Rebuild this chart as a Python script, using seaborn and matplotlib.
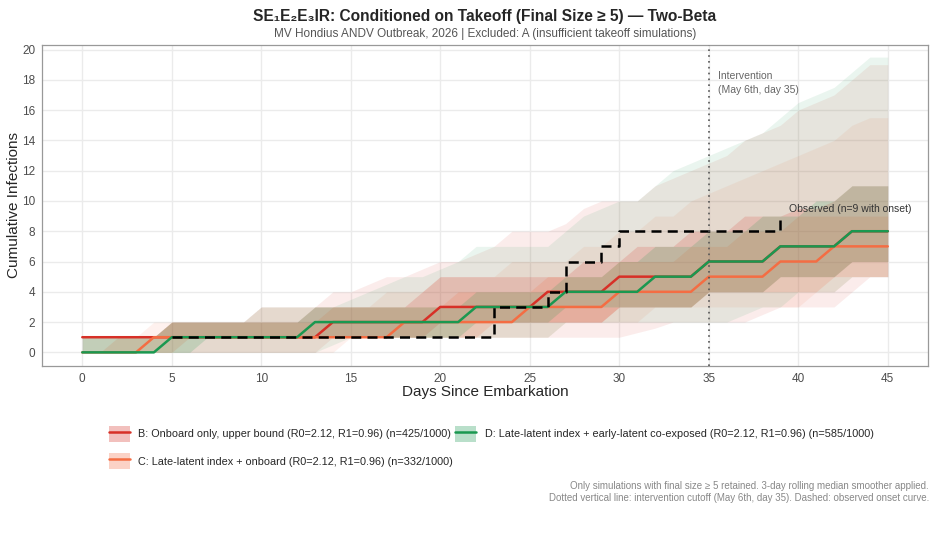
import matplotlib.pyplot as plt
import pandas as pd
import seaborn as sns
from matplotlib.lines import Line2D
from matplotlib.patches import Patch

# --- data (day 0..45) ---
days = list(range(46))

scenario_keys = ['B', 'C', 'D']
scenario_labels = [
    'B: Onboard only, upper bound (R0=2.12, R1=0.96) (n=425/1000)',
    'C: Late-latent index + onboard (R0=2.12, R1=0.96) (n=332/1000)',
    'D: Late-latent index + early-latent co-exposed (R0=2.12, R1=0.96) (n=585/1000)',
]
scenario_colors = ['#d73027', '#f46d43', '#1a9850']

# medians
b_med = [1, 1, 1, 1, 1, 1, 1, 1, 1, 1,
         1, 1, 1, 1, 2, 2, 2, 2, 2, 2,
         3, 3, 3, 3, 3, 3, 4, 4, 4, 4,
         5, 5, 5, 5, 5, 6, 6, 6, 6, 7,
         7, 7, 7, 8, 8, 8]
c_med = [0, 0, 0, 0, 1, 1, 1, 1, 1, 1,
         1, 1, 1, 1, 1, 1, 1, 1, 2, 2,
         2, 2, 2, 2, 2, 3, 3, 3, 3, 3,
         4, 4, 4, 4, 4, 5, 5, 5, 5, 6,
         6, 6, 7, 7, 7, 7]
d_med = [0, 0, 0, 0, 0, 1, 1, 1, 1, 1,
         1, 1, 1, 2, 2, 2, 2, 2, 2, 2,
         2, 2, 3, 3, 3, 3, 3, 4, 4, 4,
         4, 4, 5, 5, 5, 6, 6, 6, 6, 7,
         7, 7, 7, 8, 8, 8]

# outer (90%) bands
b_lo90 = [0, 0, 0, 0, 0, 0, 0, 0, 0, 0,
          0, 0, 0, 0, 1, 1, 1, 1, 1, 1,
          1, 1, 1, 1, 1, 1, 1, 1, 1, 1,
          1, 1.3, 1.6, 2, 2, 2, 2, 2, 2.5, 3,
          3, 3, 3, 4, 5, 5]
b_hi90 = [1, 1, 1, 1, 1, 2, 2, 2, 2, 2,
          3, 3, 3, 3, 4, 4, 4.5, 5, 5, 5.5,
          6, 6, 6.5, 7, 8, 8, 8, 8.5, 9.5, 10,
          10, 10, 11, 11.5, 12, 12.5, 13, 14, 14.5, 15,
          16, 16.5, 17, 18, 19, 19]
c_lo90 = [0, 0, 0, 0, 0, 0, 0, 0, 0, 0,
          0, 0, 0, 0, 0, 1, 1, 1, 1, 1,
          1, 1, 1, 1, 1, 1, 1, 2, 2, 2,
          2, 2, 3, 3, 3, 3, 3, 3, 3, 3,
          3, 4, 4, 5, 5, 5]
c_hi90 = [1, 1, 1, 1, 2, 2, 2, 2, 2, 2,
          3, 3, 3, 3, 3, 3, 3, 4, 4, 4,
          5, 5, 5, 5, 6, 6, 6, 6, 7, 7,
          8, 8, 9, 9, 10, 10.5, 11, 11.5, 12, 12.5,
          13, 13.5, 14, 15, 15.5, 15.5]
d_lo90 = [0, 0, 0, 0, 0, 0, 0, 0, 0, 0,
          0, 0, 0, 0, 0.5, 1, 1, 1, 1, 1,
          1, 1, 1, 1, 1, 1, 1, 2, 2, 2,
          2, 2, 2, 2, 2, 2, 2, 2.5, 3, 3,
          4, 4, 4, 5, 5, 5]
d_hi90 = [1, 1, 1, 1, 1, 2, 2, 2, 2, 2,
          3, 3, 3, 3, 3, 3.5, 4, 4.5, 5, 5,
          5.5, 6, 7, 7, 7, 7, 7, 8, 9, 9.5,
          10, 10, 11, 12, 12.5, 13, 13.5, 14, 14.5, 15.5,
          16.5, 17, 17.5, 18.5, 19.5, 19.5]

# inner (50%) bands
b_lo50 = [1, 1, 1, 1, 1, 1, 1, 1, 1, 1,
          1, 1, 1, 1, 1, 1, 1, 1, 1, 1,
          2, 2, 2, 2, 2, 2, 2, 2, 2, 2,
          3, 3, 3, 3, 3, 4, 4, 4, 4, 5,
          5, 5, 5, 6, 6, 6]
b_hi50 = [1, 1, 1, 1, 1, 2, 2, 2, 2, 2,
          2, 2, 2, 3, 3, 3, 3, 3, 3, 4,
          5, 5, 5, 5, 5, 5, 5, 5, 6, 6,
          6, 7, 7, 7, 8, 8, 8, 9, 9, 9,
          9.5, 9.5, 10, 11, 11, 11]
c_lo50 = [0, 0, 0, 0, 0, 0, 1, 1, 1, 1,
          1, 1, 1, 1, 1, 1, 1, 1, 1, 1,
          1, 1, 1, 2, 2, 2, 2, 2, 2, 2,
          3, 3, 3, 3, 3, 4, 4, 4, 4, 4,
          4, 4, 5, 5, 5, 5]
c_hi50 = [0, 0, 1, 1, 1, 2, 2, 2, 2, 2,
          2, 2, 2, 2, 3, 3, 3, 3, 3, 3,
          3, 4, 4, 4, 4, 4, 5, 5, 5, 5,
          6, 6, 6, 6, 7, 7, 7, 8, 8, 8,
          9, 9, 9, 9, 9, 9]
d_lo50 = [0, 0, 0, 0, 0, 0, 0, 1, 1, 1,
          1, 1, 1, 1, 1, 1, 1, 1, 1, 1,
          1, 1, 2, 2, 2, 2, 2, 3, 3, 3,
          3, 3, 3, 3, 3, 4, 4, 4, 4, 5,
          5, 5, 5, 6, 6, 6]
d_hi50 = [1, 1, 1, 1, 1, 2, 2, 2, 2, 2,
          2, 2, 2, 3, 3, 3, 3, 3, 3, 3,
          3, 3, 4, 4, 4, 4, 4, 5, 5, 5,
          6, 6, 7, 7, 7, 8, 8, 8, 9, 9,
          9, 10, 10, 11, 11, 11]

# observed onset curve
obs_day = [5, 23, 26, 27, 29, 30, 39]
obs_cum = [1, 3, 4, 6, 7, 8, 9]

intervention_day = 35

# --- build long table ---
rows = []
for key, med, lo90, hi90, lo50, hi50 in [
        ('B', b_med, b_lo90, b_hi90, b_lo50, b_hi50),
        ('C', c_med, c_lo90, c_hi90, c_lo50, c_hi50),
        ('D', d_med, d_lo90, d_hi90, d_lo50, d_hi50)]:
    rows.append(pd.DataFrame({'day': days, 'median': med, 'lo90': lo90, 'hi90': hi90,
                              'lo50': lo50, 'hi50': hi50, 'scenario': key}))
df = pd.concat(rows, ignore_index=True)

sns.set_theme(style='whitegrid')
plt.rcParams['font.family'] = ['Liberation Sans', 'DejaVu Sans']

fig = plt.figure(figsize=(9.36, 5.35), dpi=100)
ax = fig.add_axes([0.0449, 0.3159, 0.9466, 0.6000])

palette = dict(zip(scenario_keys, scenario_colors))

# ribbons
for key in scenario_keys:
    sub = df[df['scenario'] == key]
    ax.fill_between(sub['day'], sub['lo90'], sub['hi90'], color=palette[key], alpha=0.09, lw=0)
for key in scenario_keys:
    sub = df[df['scenario'] == key]
    ax.fill_between(sub['day'], sub['lo50'], sub['hi50'], color=palette[key], alpha=0.17, lw=0)

# median lines
sns.lineplot(data=df, x='day', y='median', hue='scenario', hue_order=scenario_keys,
             palette=palette, estimator=None, lw=1.8, legend=False, ax=ax)

# observed
ax.plot(obs_day, obs_cum, drawstyle='steps-post', color='black', lw=1.8,
        dashes=(4, 2.5), zorder=5)
ax.text(39.5, 9.5, 'Observed (n=9 with onset)', fontsize=7.5, color='#333333',
        ha='left', va='center')

# intervention
ax.axvline(intervention_day, color='#555555', lw=1.2, ls=(0, (1, 2.5)), zorder=6)
ax.text(35.5, 18.55, 'Intervention\n(May 6th, day 35)', fontsize=7.5, color='#666666',
        ha='left', va='top', linespacing=1.45)

ax.set_xlim(-2.25, 47.25)
ax.set_ylim(-0.9, 20.3)
ax.set_xticks(range(0, 46, 5))
ax.set_yticks(range(0, 21, 2))
ax.tick_params(axis='both', labelsize=8.5, labelcolor='#4d4d4d', length=3,
               color='#999999', pad=2)
ax.grid(True, color='#ebebeb', lw=1)
for s in ax.spines.values():
    s.set_color('#999999')
    s.set_linewidth(0.9)
ax.set_xlabel('')
ax.set_ylabel('')

fig.text(0.0150, 0.6159, 'Cumulative Infections', rotation=90, fontsize=11,
         ha='center', va='center')
fig.text(0.5182, 0.267, 'Days Since Embarkation', fontsize=11, ha='center', va='center')

fig.text(0.5182, 0.970, 'SE\u2081E\u2082E\u2083IR: Conditioned on Takeoff (Final Size \u2265 5) \u2014 Two-Beta',
         fontsize=11.2, fontweight='bold', ha='center', va='center')
fig.text(0.5182, 0.936, 'MV Hondius ANDV Outbreak, 2026 | Excluded: A (insufficient takeoff simulations)',
         fontsize=8.5, color='#555555', ha='center', va='center')

# legend
handles = []
for key, col in zip(scenario_keys, scenario_colors):
    handles.append((Patch(facecolor=col, alpha=0.3, edgecolor='none'),
                    Line2D([], [], color=col, lw=1.8)))
fig.legend(handles, scenario_labels, loc='upper left', bbox_to_anchor=(0.112, 0.212),
           ncol=2, frameon=False, fontsize=7.8, handlelength=1.9, handleheight=1.9,
           handletextpad=0.8, columnspacing=0.2, labelspacing=1.05, borderaxespad=0)

fig.text(0.9925, 0.080, 'Only simulations with final size \u2265 5 retained. 3-day rolling median smoother applied.\n'
         'Dotted vertical line: intervention cutoff (May 6th, day 35). Dashed: observed onset curve.',
         fontsize=7, color='#888888', ha='right', va='center', linespacing=1.3)

fig.savefig('out.png', dpi=100)
